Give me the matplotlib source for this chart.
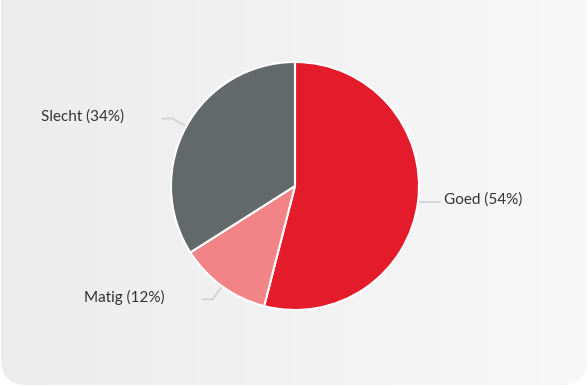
import numpy as np
import matplotlib.pyplot as plt
from matplotlib.patches import FancyBboxPatch

labels = ['Goed', 'Matig', 'Slecht']
shares = [54, 12, 34]
colors = ['#E31B2B', '#F28488', '#63686A']

W, H = 588, 388
fig = plt.figure(figsize=(W / 100, H / 100), dpi=100)
ax = fig.add_axes([0, 0, 1, 1])

# background card with soft horizontal gradient and rounded bottom corners
card = FancyBboxPatch((1, 3), W - 2, H + 40, boxstyle='round,pad=0,rounding_size=26',
                      facecolor='none', edgecolor='none')
ax.add_patch(card)
grad = np.linspace(0, 1, 256).reshape(1, -1)
img = ax.imshow(grad, cmap=plt.matplotlib.colors.LinearSegmentedColormap.from_list(
    'bg', ['#ECECEC', '#F8F8F8']), extent=(0, W, 0, H), aspect='auto', zorder=0)
img.set_clip_path(card)

cx, cy, r = 295, H - 186, 124
wedges, _ = ax.pie(shares, colors=colors, startangle=90, counterclock=False,
                   center=(cx, cy), radius=r, frame=True,
                   wedgeprops=dict(edgecolor='white', linewidth=1.5))
ax.set_xlim(0, W)
ax.set_ylim(0, H)
ax.set_aspect('auto')
ax.axis('off')

# leader lines + labels
for w, lab, val in zip(wedges, labels, shares):
    ang = np.deg2rad((w.theta1 + w.theta2) / 2)
    x0, y0 = cx + (r + 2) * np.cos(ang), cy + (r + 2) * np.sin(ang)
    x1, y1 = cx + (r + 16) * np.cos(ang), cy + (r + 16) * np.sin(ang)
    side = 1 if np.cos(ang) > 0 else -1
    if abs(np.sin(ang)) < 0.2:
        x1, y1 = x0 + side * 10, y0
    x2 = x1 + side * 10
    ax.plot([x0, x1, x2], [y0, y1, y1], color='#D6D6D6', lw=1.5,
            solid_capstyle='round', zorder=1)
    gap = 4 if side > 0 else 38
    ax.text(x2 + side * gap, y1 + 2, f'{lab} ({val}%)', ha='left' if side > 0 else 'right',
            va='center', fontsize=11, family='Lato', color='#333333')

fig.savefig('out.png', dpi=100)
